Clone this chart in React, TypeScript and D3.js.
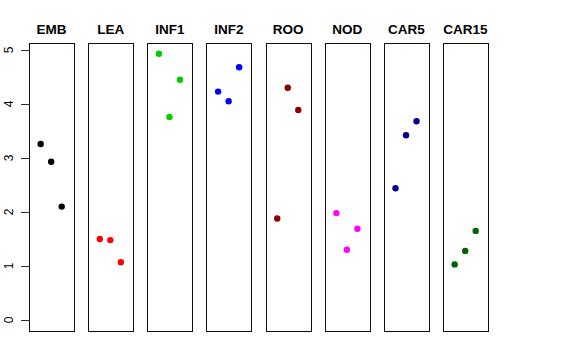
import React, { useEffect, useRef } from 'react';
import * as d3 from 'd3';

const panels = ['EMB', 'LEA', 'INF1', 'INF2', 'ROO', 'NOD', 'CAR5', 'CAR15'];
const colors = ['#000000', '#FF0000', '#00CD00', '#0000FF', '#8B0000', '#FF00FF', '#00008B', '#006400'];
const rep1 = [3.26, 1.5, 4.93, 4.23, 1.88, 1.98, 2.44, 1.03];
const rep2 = [2.93, 1.48, 3.76, 4.05, 4.3, 1.3, 3.42, 1.28];
const rep3 = [2.1, 1.07, 4.45, 4.68, 3.89, 1.69, 3.68, 1.65];
const yTicks = [0, 1, 2, 3, 4, 5];

const App = () => {
  const svgRef = useRef<SVGSVGElement>(null);

  useEffect(() => {
    const width = 576;
    const height = 360;

    const svg = d3.select(svgRef.current)
      .attr('width', width)
      .attr('height', height)
      .style('display', 'block')
      .style('background', '#fff');

    svg.selectAll('*').remove();

    const top = 43;
    const bottom = 331;

    // panels across, points inside each panel
    const panelScale = d3.scaleBand()
      .domain(panels)
      .range([29, 488])
      .paddingInner(0.239)
      .paddingOuter(0);

    const yScale = d3.scaleLinear()
      .domain([0, 5])
      .range([320, 50]);

    const inner = d3.scaleLinear()
      .domain([-0.11, 4.17])
      .range([0, panelScale.bandwidth()]);

    panels.forEach((p, i) => {
      const x0 = panelScale(p)!;
      const g = svg.append('g');

      g.append('rect')
        .attr('x', Math.round(x0) + 0.5)
        .attr('y', top + 0.5)
        .attr('width', Math.round(panelScale.bandwidth()))
        .attr('height', bottom - top)
        .attr('fill', 'none')
        .attr('stroke', '#111')
        .attr('stroke-width', 1);

      g.append('text')
        .attr('x', x0 + panelScale.bandwidth() / 2)
        .attr('y', 34)
        .attr('text-anchor', 'middle')
        .style('font-family', '"Liberation Sans", Arial, sans-serif')
        .style('font-weight', 'bold')
        .style('font-size', '13.5px')
        .text(p);

      const vals = [rep1[i], rep2[i], rep3[i]];
      g.selectAll('circle')
        .data(vals)
        .enter()
        .append('circle')
        .attr('cx', (d, j) => x0 + inner(j + 1))
        .attr('cy', d => yScale(d))
        .attr('r', 3.2)
        .attr('fill', colors[i]);
    });

    // y axis
    const axis = svg.append('g');
    axis.selectAll('line')
      .data(yTicks)
      .enter()
      .append('line')
      .attr('x1', 21)
      .attr('x2', 29)
      .attr('y1', d => Math.round(yScale(d)) + 0.5)
      .attr('y2', d => Math.round(yScale(d)) + 0.5)
      .attr('stroke', '#333');

    axis.selectAll('text')
      .data(yTicks)
      .enter()
      .append('text')
      .attr('transform', d => `translate(12.7, ${yScale(d)}) rotate(-90)`)
      .attr('text-anchor', 'middle')
      .style('font-family', '"Liberation Sans", Arial, sans-serif')
      .style('font-size', '12px')
      .text(d => d);
  }, []);

  return <svg ref={svgRef} style={{ position: 'absolute', left: 0, top: 0 }}></svg>;
};

export default App;
